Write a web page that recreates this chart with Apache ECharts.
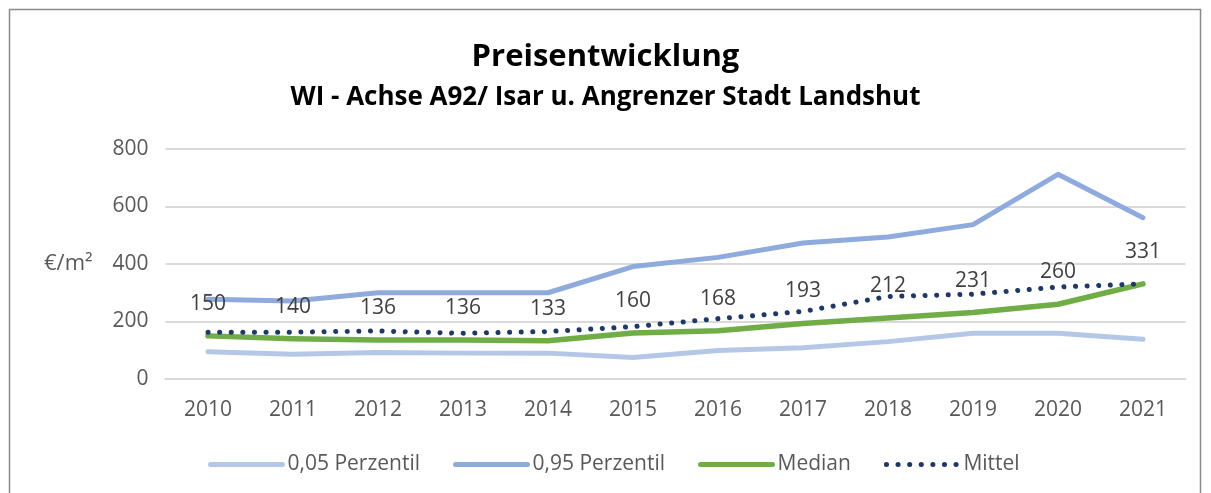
<!DOCTYPE html>
<html>
<head>
<meta charset="utf-8">
<script src="https://cdn.jsdelivr.net/npm/echarts@6/dist/echarts.min.js"></script>
<style>
  html, body { margin: 0; padding: 0; background: #fff; }
  #container { width: 1211px; height: 493px; }
</style>
</head>
<body>
<div id="container"></div>
<script>
var years = ['2010', '2011', '2012', '2013', '2014', '2015', '2016', '2017', '2018', '2019', '2020', '2021'];
var p05 = [95, 86, 92, 90, 90, 75, 99, 109, 130, 159, 159, 138];
var p95 = [277, 271, 300, 300, 300, 391, 423, 473, 494, 537, 712, 561];
var median = [150, 140, 136, 136, 133, 160, 168, 193, 212, 231, 260, 331];
var mittel = [163, 163, 167, 159, 165, 182, 210, 235, 287, 295, 320, 331];
var yTicks = [0, 200, 400, 600, 800];

var font = '"Open Sans", sans-serif';

var dom = document.getElementById('container');
var myChart = echarts.init(dom);

var option = {
    animation: false,
    textStyle: { fontFamily: font },
    title: [
        {
            text: 'Preisentwicklung',
            left: 'center',
            top: 37,
            textStyle: { fontSize: 31, fontWeight: 'bold', color: '#000', fontFamily: font }
        },
        {
            text: 'WI - Achse A92/ Isar u. Angrenzer Stadt Landshut',
            left: 'center',
            top: 80,
            textStyle: { fontSize: 26, fontWeight: 'bold', color: '#000', fontFamily: font }
        }
    ],
    graphic: [
        {
            type: 'rect',
            shape: { x: 9.5, y: 9.5, width: 1191, height: 500 },
            style: { fill: 'none', stroke: '#8a8a8a', lineWidth: 1.5 },
            silent: true
        },
        {
            type: 'text',
            left: 44,
            top: 253,
            style: { text: '€/m²', font: '22px ' + font, fill: '#595959' }
        }
    ],
    legend: {
        bottom: 13,
        left: 203,
        itemWidth: 72,
        itemHeight: 14,
        itemGap: 33,
        itemStyle: { opacity: 0 },
        lineStyle: { width: 5, cap: 'round' },
        textStyle: { fontSize: 21, color: '#595959', fontFamily: font, padding: [0, 0, 0, 0] },
        data: ['0,05 Perzentil', '0,95 Perzentil', 'Median', 'Mittel']
    },
    grid: {
        left: 165.5,
        right: 25.5,
        top: 149,
        bottom: 114
    },
    xAxis: {
        type: 'category',
        data: years,
        boundaryGap: true,
        axisLine: { lineStyle: { color: '#d9d9d9', width: 2 } },
        axisTick: { show: false },
        axisLabel: { fontSize: 21, color: '#595959', margin: 21 }
    },
    yAxis: {
        type: 'value',
        min: yTicks[0],
        max: yTicks[yTicks.length - 1],
        interval: 200,
        axisLine: { show: false },
        axisTick: { show: false },
        axisLabel: { fontSize: 21, color: '#595959', margin: 17 },
        splitLine: { lineStyle: { color: '#d9d9d9', width: 2 } }
    },
    series: [
        {
            name: '0,05 Perzentil',
            type: 'line',
            data: p05,
            symbol: 'none',
            itemStyle: { color: '#b4c7e7' },
            lineStyle: { color: '#b4c7e7', width: 5, cap: 'round', join: 'round' }
        },
        {
            name: '0,95 Perzentil',
            type: 'line',
            data: p95,
            symbol: 'none',
            itemStyle: { color: '#8faadc' },
            lineStyle: { color: '#8faadc', width: 5, cap: 'round', join: 'round' }
        },
        {
            name: 'Median',
            type: 'line',
            data: median,
            symbol: 'circle',
            symbolSize: 1,
            showSymbol: true,
            itemStyle: { color: '#70ad47' },
            lineStyle: { color: '#70ad47', width: 5.5, cap: 'round', join: 'round' },
            label: {
                show: true,
                position: 'top',
                distance: 21,
                fontSize: 21,
                color: '#404040',
                opacity: 1,
                fontFamily: font
            },
            z: 3
        },
        {
            name: 'Mittel',
            type: 'line',
            data: mittel,
            symbol: 'none',
            itemStyle: { color: '#203864' },
            lineStyle: { color: '#203864', width: 5, type: [0.1, 11.5], cap: 'round', join: 'round' },
            z: 4
        }
    ]
};

if (option && typeof option === 'object') {
    myChart.setOption(option);
}
</script>
</body>
</html>
